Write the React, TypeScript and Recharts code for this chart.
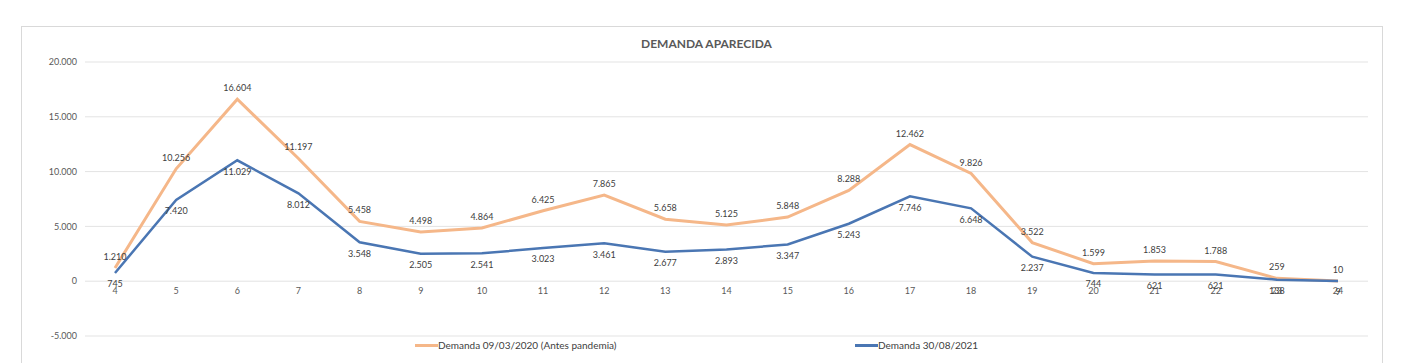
import { LineChart, Line, XAxis, YAxis, CartesianGrid, LabelList } from 'recharts'

const days = [4, 5, 6, 7, 8, 9, 10, 11, 12, 13, 14, 15, 16, 17, 18, 19, 20, 21, 22, 23, 24]
const before = [1210, 10256, 16604, 11197, 5458, 4498, 4864, 6425, 7865, 5658, 5125, 5848, 8288, 12462, 9826, 3522, 1599, 1853, 1788, 259, 10]
const after = [745, 7420, 11029, 8012, 3548, 2505, 2541, 3023, 3461, 2677, 2893, 3347, 5243, 7746, 6648, 2237, 744, 621, 621, 138, 9]
const yTicks = [-5000, 0, 5000, 10000, 15000, 20000]

const seriesNames = ['Demanda 09/03/2020 (Antes pandemia)', 'Demanda 30/08/2021']
const ORANGE = '#F5B789'
const BLUE = '#4A76B3'

const data = days.map((d, i) => ({ day: d, before: before[i], after: after[i] }))

const fmt = (v: number) => {
  const s = String(Math.abs(v)).replace(/\B(?=(\d{3})+(?!\d))/g, '.')
  return v < 0 ? '-' + s : s
}

const TOP = 62
const PLOT_H = 274
const zeroY = TOP + (20000 / 25000) * PLOT_H

const DayTick = ({ x, payload }: any) => (
  <text x={x} y={zeroY + 13} textAnchor="middle" fontSize={9} fill="#595959">
    {payload.value}
  </text>
)

export default function App() {
  return (
    <div style={{ position: 'absolute', left: 0, top: 0, width: 1413, height: 363, background: '#fff', overflow: 'hidden', fontFamily: 'Lato, "Noto Sans", sans-serif' }}>
      <div style={{ position: 'absolute', left: 21, top: 26, width: 1360, height: 400, border: '1px solid #d9d9d9' }} />
      <div style={{ position: 'absolute', left: 0, width: 1413, top: 36, textAlign: 'center', fontSize: 12, fontWeight: 700, color: '#595959' }}>
        DEMANDA APARECIDA
      </div>
      <div style={{ position: 'absolute', left: 0, top: 0 }}>
        <LineChart width={1413} height={363} data={data} margin={{ top: TOP, right: 45, bottom: 363 - TOP - PLOT_H - 1, left: 0 }}>
          <CartesianGrid vertical={false} stroke="#e3e3e3" />
          <XAxis dataKey="day" height={1} padding={{ left: 30, right: 30 }} axisLine={false} tickLine={false} tick={<DayTick />} interval={0} />
          <YAxis
            width={85}
            domain={[-5000, 20000]}
            ticks={yTicks}
            axisLine={false}
            tickLine={false}
            tickFormatter={fmt}
            tick={{ fontSize: 9, fill: '#595959' }}
          />
          <Line dataKey="before" stroke={ORANGE} strokeWidth={3} dot={false} isAnimationActive={false}>
            <LabelList dataKey="before" position="top" offset={8} formatter={(v: any) => fmt(Number(v))} style={{ fontSize: 9, fill: '#404040' }} />
          </Line>
          <Line dataKey="after" stroke={BLUE} strokeWidth={2.5} dot={false} isAnimationActive={false}>
            <LabelList dataKey="after" position="bottom" offset={8} formatter={(v: any) => fmt(Number(v))} style={{ fontSize: 9, fill: '#404040' }} />
          </Line>
        </LineChart>
      </div>
      <div style={{ position: 'absolute', top: 339, left: 415, display: 'flex', alignItems: 'center', fontSize: 10, color: '#404040' }}>
        <span style={{ display: 'inline-block', width: 23, height: 3, background: ORANGE }} />
        <span>{seriesNames[0]}</span>
      </div>
      <div style={{ position: 'absolute', top: 339, left: 855, display: 'flex', alignItems: 'center', fontSize: 10, color: '#404040' }}>
        <span style={{ display: 'inline-block', width: 23, height: 3, background: BLUE }} />
        <span>{seriesNames[1]}</span>
      </div>
    </div>
  )
}
